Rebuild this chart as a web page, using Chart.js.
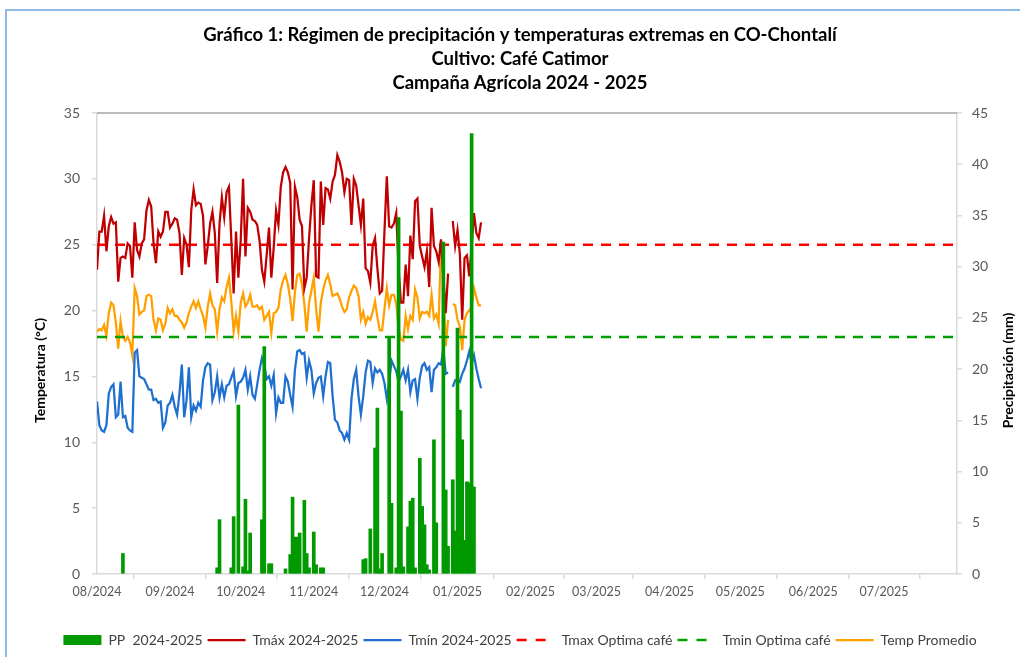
<!DOCTYPE html>
<html>
<head>
<meta charset="utf-8">
<script src="https://cdn.jsdelivr.net/npm/chart.js@4.4.1/dist/chart.umd.min.js"></script>
<style>
  html, body { margin: 0; padding: 0; background: #fff; }
  #frame { position: absolute; left: 5px; top: 9px; right: 0; bottom: 0;
           border-top: 2px solid #8dbbe4; border-left: 2px solid #8dbbe4; }
  #wrap { position: absolute; left: 0; top: 0; width: 1020px; height: 657px; }
</style>
</head>
<body>
<div id="frame"></div>
<div id="wrap"><canvas id="chart" width="1020" height="657"></canvas></div>
<script>
// day 0 = 01/08/2024, one value per day
const monthTickDays = [0, 31, 61, 92, 122, 153, 184, 212, 243, 273, 304, 334];
const monthLabels = ['08/2024', '09/2024', '10/2024', '11/2024', '12/2024', '01/2025',
  '02/2025', '03/2025', '04/2025', '05/2025', '06/2025', '07/2025'];
const seasonEndDay = 365;

const tmax = [
  23.1, 26.0, 26.0, 27.2, 24.5, 26.4, 27.1, 26.6, 26.7, 22.2,
  24.0, 24.1, 24.0, 25.1, 24.9, 22.5, 26.7, 24.6, 24.1, 25.1,
  25.4, 27.6, 28.4, 27.9, 25.1, 23.6, 26.0, 25.6, 26.0, 27.5,
  27.5, 26.3, 26.6, 27.0, 26.9, 25.9, 22.7, 25.5, 25.0, 23.3,
  27.6, 29.2, 28.0, 28.2, 28.1, 27.2, 23.5, 24.9, 26.6, 27.5,
  25.9, 22.1, 26.6, 28.6, 27.1, 29.0, 29.4, 25.4, 21.3, 26.0,
  22.5, 25.4, 30.0, 24.1, 27.8, 27.5, 26.9, 26.8, 26.5, 25.3,
  23.1, 22.2, 24.2, 26.3, 22.5, 24.8, 27.6, 26.5, 29.4, 30.5,
  30.9, 30.5, 29.7, 21.6, 29.4, 28.6, 26.9, 26.4, 21.7, 22.5,
  25.5, 28.0, 29.9, 22.6, 22.5, 29.8, 26.5, 29.3, 29.2, 28.5,
  29.8, 30.3, 31.8, 31.3, 30.5, 29.0, 30.0, 29.9, 26.5, 30.0,
  29.5, 28.0, 26.5, 28.5, 23.2, 23.0, 22.1, 24.9, 25.5, 23.2,
  21.3, 21.5, 26.0, 30.2, 26.4, 26.3, 26.6, 27.4, 23.2, 20.6,
  20.6, 23.5, 21.1, 25.7, 23.9, 28.3, 28.5, 24.9, 24.1, 23.3,
  24.5, 21.8, 27.8, 24.9, 24.5, 23.7, 25.4, 22.6, 19.8, 22.8,
  null, 26.8, 24.9, 26.1, 24.3, 19.3, 24.0, 24.2, 22.6, 24.9,
  27.4, 25.9, 25.5, 26.7
];

const tmin = [
  13.1, 11.3, 10.9, 10.8, 11.3, 13.7, 14.2, 14.4, 11.9, 12.1,
  14.6, 11.9, 12.0, 11.1, 10.9, 10.8, 16.8, 17.0, 15.0, 14.9,
  14.8, 14.4, 14.0, 14.0, 13.2, 13.3, 13.0, 13.1, 11.1, 11.5,
  12.8, 13.0, 13.6, 12.7, 12.1, 13.7, 15.9, 11.9, 13.2, 15.7,
  11.9, 12.8, 12.4, 13.0, 12.7, 14.7, 15.7, 16.0, 15.9, 13.2,
  13.8, 15.0, 13.4, 14.4, 13.4, 14.3, 14.4, 14.9, 15.4, 13.5,
  14.5, 14.6, 14.9, 15.5, 14.0, 15.0, 13.6, 13.3, 14.4, 15.5,
  16.4, 15.9, 14.8, 15.0, 14.3, 15.1, 12.2, 13.4, 13.0, 13.0,
  15.0, 14.6, 13.6, 12.7, 15.5, 16.9, 17.0, 16.7, 16.8, 14.9,
  16.2, 15.5, 13.7, 14.5, 14.9, 15.0, 13.5, 15.0, 16.1, 16.0,
  13.5, 11.7, 11.5, 10.9, 10.7, 10.2, 10.7, 10.2, 13.3, 14.8,
  15.5, 13.5, 12.1, 13.5, 15.3, 16.2, 16.1, 14.5, 15.6, 15.3,
  15.5, 15.2, 14.5, 13.3, 14.5, 16.2, 15.8, 15.4, 14.6, 15.0,
  15.5, 14.7, 15.5, 13.8, 14.7, 14.8, 13.3, 14.9, 15.8, 16.0,
  15.5, 15.7, 13.8, 15.5, 15.7, 16.0, 15.9, 17.1, 15.2, 15.3,
  null, 14.2, 14.7, 14.8, 14.6, 15.2, 15.6, 16.2, 16.9, 16.0,
  16.6, 15.6, 14.8, 14.1
];

const tavg = [
  18.4, 18.6, 18.5, 18.9, 18.1, 19.8, 20.6, 20.4, 19.1, 17.1,
  19.2, 18.0, 17.7, 18.0, 17.6, 16.6, 21.7, 21.1, 19.7, 19.9,
  20.0, 21.1, 21.2, 21.1, 19.3, 18.5, 19.4, 19.3, 18.5, 19.0,
  20.2, 19.8, 20.1, 19.6, 19.6, 19.3, 19.1, 18.7, 19.1, 19.8,
  20.3, 20.7, 20.2, 20.7, 20.1, 19.6, 18.7, 20.3, 21.3, 20.4,
  20.1, 18.4, 20.1, 21.0, 20.7, 21.8, 22.5, 20.7, 18.4, 19.6,
  18.4, 20.6, 21.3, 20.3, 20.6, 21.2, 20.3, 20.3, 20.4, 20.1,
  20.3, 19.3, 19.6, 19.9, 18.3, 19.8, 19.9, 20.2, 21.6, 22.3,
  22.7, 22.0, 20.9, 19.2, 21.4, 22.7, 22.8, 22.0, 20.5, 18.4,
  20.6, 21.5, 22.5, 20.1, 18.4, 20.6, 21.6, 22.3, 22.7, 22.0,
  21.1, 21.2, 21.3, 20.9, 20.3, 19.9, 20.1, 21.0, 21.5, 21.9,
  21.7, 21.1, 19.3, 19.9, 19.0, 19.5, 19.3, 19.9, 20.7, 19.5,
  18.5, 18.5, 20.1, 21.7, 20.4, 21.2, 21.2, 20.5, 18.6, 17.8,
  17.7, 19.6, 18.6, 19.6, 19.3, 21.6, 21.0, 19.4, 19.9, 19.8,
  19.9, 19.6, 21.2, 19.4, 19.7, 19.0, 25.3, 22.0, 17.3, 19.3,
  null, 20.5, 20.4, 19.3, 18.8, 17.0, 19.3, 19.8, 20.0, 20.3,
  21.7, 21.0, 20.4, 20.4
];

// rainy days only (day index, mm)
const rainDays = [11, 51, 52, 57, 58, 60, 62, 63, 64, 65, 70, 71, 73, 74, 80, 82, 83, 84, 85, 86,
  88, 89, 90, 92, 93, 95, 96, 113, 114, 116, 118, 119, 120, 121, 124, 125, 127, 128, 129, 130,
  132, 133, 134, 135, 137, 138, 139, 140, 141, 143, 144, 147, 148, 149, 151, 152, 153, 154, 155, 156,
  157, 158, 159, 160];
const rainMm = [2.0, 0.6, 5.3, 0.6, 5.6, 16.5, 0.7, 7.3, 0.3, 4.0, 5.3, 22.2, 1.0, 1.0, 0.5, 1.9, 7.5, 3.6, 3.6, 4.0,
  7.2, 2.0, 0.6, 4.1, 0.9, 0.6, 0.6, 1.4, 1.5, 4.4, 12.3, 16.2, 0.5, 2.0, 23.2, 6.9, 0.6, 34.8, 15.9, 0.7,
  4.6, 7.1, 7.4, 0.6, 11.3, 6.6, 4.8, 0.9, 0.4, 13.1, 5.0, 32.4, 8.2, 2.7, 9.2, 4.2, 24.0, 16.0, 13.1, 3.3,
  9.0, 8.9, 43.0, 8.5];

const tmaxOptima = 25;
const tminOptima = 18;

const daily = arr => arr.map((v, i) => ({ x: i, y: v }));
const flat = v => [{ x: 0, y: v }, { x: seasonEndDay, y: v }];

Chart.defaults.font.family = 'Lato, "Open Sans", sans-serif';
Chart.defaults.color = '#595959';

// Excel style axis titles, a bit below the middle of the plot
const axisTitles = {
  id: 'axisTitles',
  afterDraw (chart) {
    const { ctx, chartArea } = chart;
    const cy = (chartArea.top + chartArea.bottom) / 2 + 27;
    const put = (text, x) => {
      ctx.save();
      ctx.fillStyle = '#000';
      ctx.font = 'bold 14px Lato';
      ctx.textAlign = 'center';
      ctx.textBaseline = 'middle';
      ctx.translate(x, cy);
      ctx.rotate(-Math.PI / 2);
      ctx.fillText(text, 0, 0);
      ctx.restore();
    };
    put('Temperatura (°C)', chartArea.left - 57);
    put('Precipitación (mm)', chartArea.right + 51);
  }
};

const plotTop = {
  id: 'plotTop',
  afterDraw (chart) {
    const { ctx, chartArea } = chart;
    ctx.save();
    ctx.strokeStyle = '#a6a6a6';
    ctx.lineWidth = 1.5;
    ctx.beginPath();
    ctx.moveTo(chartArea.left, chartArea.top);
    ctx.lineTo(chartArea.right, chartArea.top);
    ctx.stroke();
    ctx.restore();
  }
};

const axisGrid = { drawOnChartArea: false, tickLength: 5, color: '#d9d9d9', lineWidth: 1.5 };
const axisBorder = { color: '#d9d9d9', width: 1.5 };

new Chart(document.getElementById('chart'), {
  type: 'line',
  data: {
    datasets: [
      {
        type: 'bar', label: 'PP  2024-2025', yAxisID: 'y1',
        data: rainDays.map((d, i) => ({ x: d, y: rainMm[i] })),
        backgroundColor: '#009900', borderWidth: 0,
        barThickness: 3, order: 0
      },
      {
        label: 'Tmáx 2024-2025', data: daily(tmax), yAxisID: 'y',
        borderColor: '#c00000', borderWidth: 2.25, pointRadius: 0, order: 1
      },
      {
        label: 'Tmín 2024-2025', data: daily(tmin), yAxisID: 'y',
        borderColor: '#1f6fd0', borderWidth: 2.25, pointRadius: 0, order: 1
      },
      {
        label: 'Tmax Optima café', data: flat(tmaxOptima), yAxisID: 'y',
        borderColor: '#ff0000', borderWidth: 2.5, borderDash: [10, 8], pointRadius: 0, order: 1
      },
      {
        label: 'Tmin Optima café', data: flat(tminOptima), yAxisID: 'y',
        borderColor: '#00a000', borderWidth: 2.5, borderDash: [10, 8], pointRadius: 0, order: 1
      },
      {
        label: 'Temp Promedio', data: daily(tavg), yAxisID: 'y',
        borderColor: '#ffa000', borderWidth: 2.25, pointRadius: 0, order: 1
      }
    ]
  },
  options: {
    responsive: false,
    animation: false,
    spanGaps: false,
    layout: { padding: { left: 20, right: 0, top: 0, bottom: 0 } },
    plugins: {
      tooltip: { enabled: false },
      title: {
        display: true,
        text: [
          'Gráfico 1: Régimen de precipitación y temperaturas extremas en CO-Chontalí',
          'Cultivo: Café Catimor',
          'Campaña Agrícola 2024 - 2025'
        ],
        color: '#000',
        font: { size: 18.5, weight: 'bold', lineHeight: 24 / 18.5 },
        padding: { top: 23, bottom: 18 }
      },
      legend: {
        position: 'bottom',
        labels: {
          usePointStyle: true,
          pointStyleWidth: 38,
          boxHeight: 10,
          padding: 5,
          color: '#404040',
          font: { size: 14 },
          generateLabels (chart) {
            const items = Chart.defaults.plugins.legend.labels.generateLabels(chart);
            items.forEach(it => {
              const ds = chart.data.datasets[it.datasetIndex];
              if (it.datasetIndex === 0) {
                it.pointStyle = 'rect';
                it.fillStyle = ds.backgroundColor;
                it.lineWidth = 0;
              } else {
                it.pointStyle = 'line';
                it.strokeStyle = ds.borderColor;
                it.lineWidth = ds.borderWidth;
                // two dashes in the legend sample, like the reference
                it.lineDash = ds.borderDash ? [10, 9] : [];
              }
            });
            return items;
          }
        }
      }
    },
    scales: {
      x: {
        type: 'linear', min: 0, max: seasonEndDay, offset: false,
        grid: axisGrid, border: axisBorder,
        afterBuildTicks: scale => { scale.ticks = monthTickDays.map(v => ({ value: v })); },
        afterFit: scale => { scale.height = 54; },
        ticks: {
          autoSkip: false, maxRotation: 0, padding: 5,
          font: { size: 12.5 },
          callback: v => monthLabels[monthTickDays.indexOf(v)]
        }
      },
      y: {
        position: 'left', min: 0, max: 35,
        grid: axisGrid, border: axisBorder,
        afterFit: scale => { scale.width = 77; },
        ticks: { stepSize: 5, padding: 12, font: { size: 14 } }
      },
      y1: {
        position: 'right', min: 0, max: 45,
        grid: axisGrid, border: axisBorder,
        afterFit: scale => { scale.width = 63; },
        ticks: { stepSize: 5, padding: 10, font: { size: 14 } }
      }
    }
  },
  plugins: [axisTitles, plotTop]
});
</script>
</body>
</html>
